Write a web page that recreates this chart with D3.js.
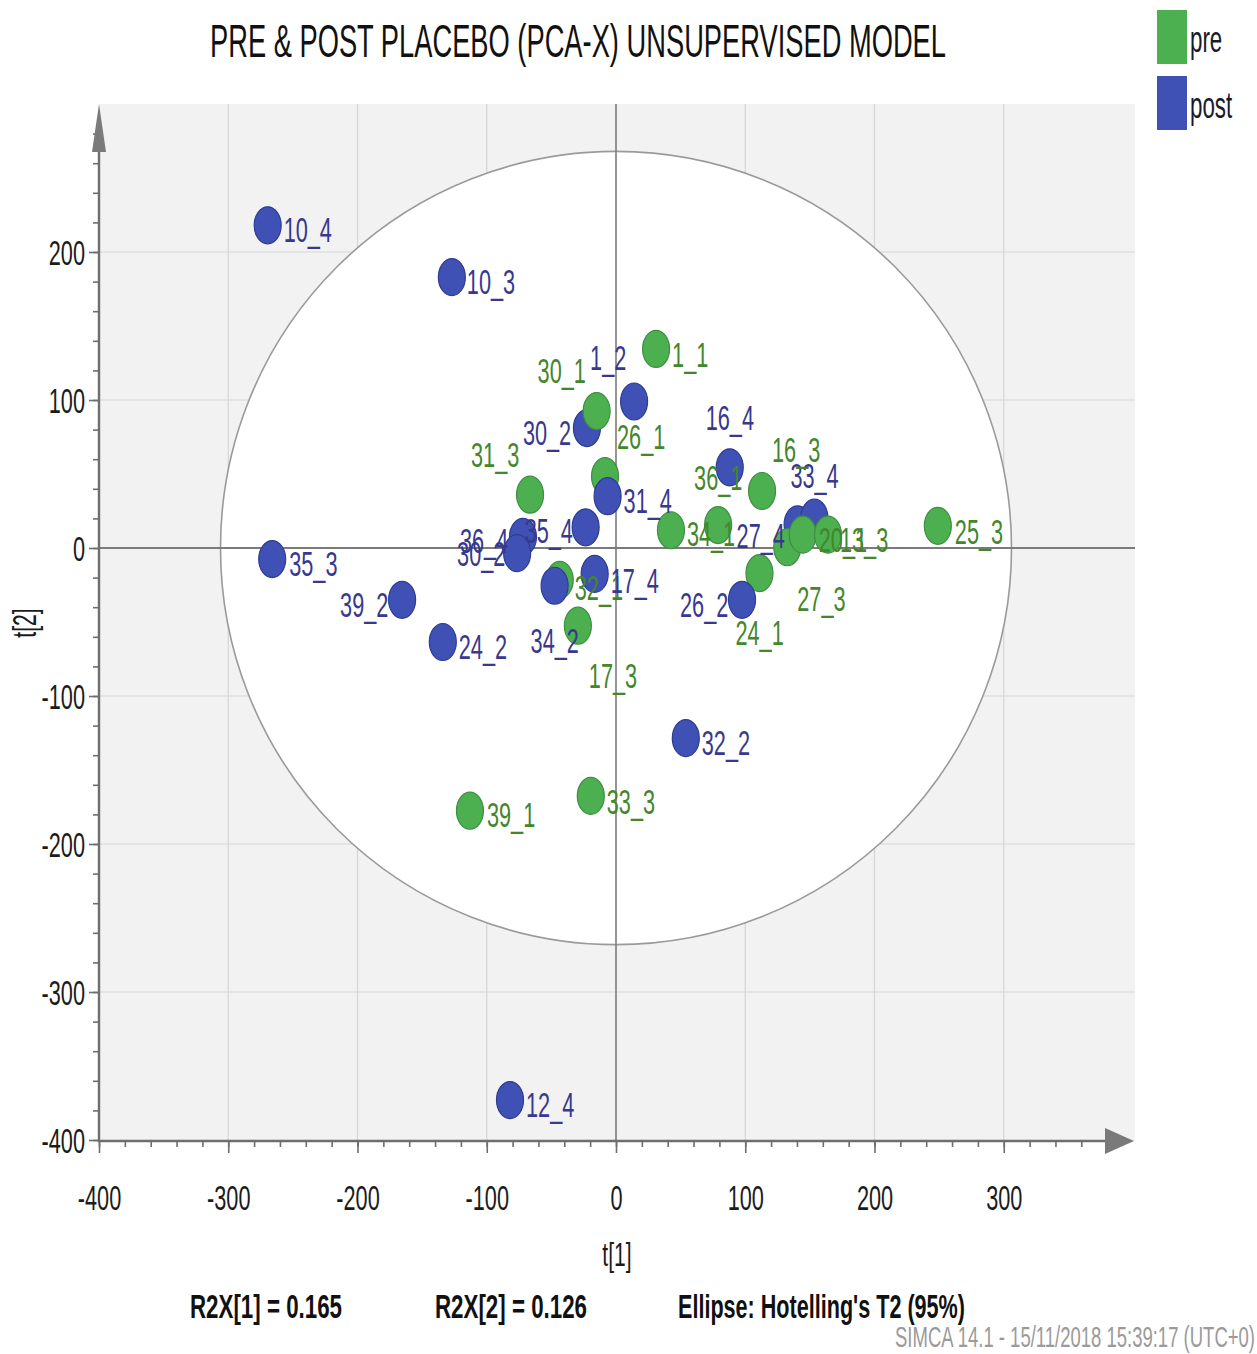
<!DOCTYPE html>
<html>
<head>
<meta charset="utf-8">
<script src="https://cdn.jsdelivr.net/npm/d3@7"></script>
<style>
  html, body { margin: 0; padding: 0; background: #ffffff; }
  svg { display: block; }
  text { font-family: "Liberation Sans", Arial, sans-serif; }
</style>
</head>
<body>
<svg id="chart" width="1257" height="1354"></svg>
<script>
// ---- PCA scores (t[1], t[2]) ----
const preNames = ["1_1", "30_1", "26_1", "31_3", "16_3", "34_1", "36_1", "27_3", "20_1", "13_3", "25_3", "24_1", "32_1", "17_3", "33_3", "39_1"];
const preT1 = [31, -15, -8.5, -66.5, 113, 42.5, 79, 132.5, 144.5, 164, 249, 111, -43.5, -29.5, -19.5, -113];
const preT2 = [134.5, 92.5, 48.5, 36, 38.5, 12, 15.5, 0.5, 9, 9, 15, -17, -21.5, -52.5, -167.5, -177.5];

// the first three "post" observations sit beneath the "pre" markers
const postNames = ["30_2", "27_4", "33_4", "10_4", "10_3", "1_2", "16_4", "31_4", "35_4", "36_4", "30_2", "35_3", "39_2", "24_2", "34_2", "17_4", "26_2", "32_2", "12_4"];
const postT1 = [-22.5, 140.5, 153.5, -269.5, -127, 14, 88, -6.5, -23.5, -72, -76.5, -266, -165.5, -134, -47.5, -16.5, 97.5, 54, -82];
const postT2 = [81, 16, 20.5, 218, 183, 99, 54.5, 35, 14, 7.5, -3.5, -7.5, -35, -63.5, -25.5, -17.5, -35, -128.5, -373];
const postBeneath = 3;

// Hotelling's T2 (95%) ellipse semi-axes in score units
const ellipseAxes = [306, 268];

const xTickValues = [-400, -300, -200, -100, 0, 100, 200, 300];
const yTickValues = [-400, -300, -200, -100, 0, 100, 200];
const titleText = "PRE & POST PLACEBO (PCA-X) UNSUPERVISED MODEL";
const groupNames = ["pre", "post"];
const footerStats = ["R2X[1] = 0.165", "R2X[2] = 0.126", "Ellipse: Hotelling's T2 (95%)"];
const stampText = "SIMCA 14.1 - 15/11/2018 15:39:17 (UTC+0)";

// label placement (pixel nudges from each marker, collision avoidance done by hand)
const preLabelShift = [[16,5],[-59,-41],[12,-40],[-59,-40],[10,-42],[16,3],[-24,-48],[10,51],[16,5],[12,5],[17,6],[-24,59],[15,8],[11,50],[16,5],[17,4]];
const postLabelShift = [[-64,4],[-61,11],[-24,-42],[16,4],[15,4],[-44,-44],[-24,-50],[16,4],[-61,3],[-63,3],[-60,0],[17,4],[-62,5],[16,4],[-24,55],[16,6],[-62,5],[16,4],[16,4]];

// ---- layout ----
const svg = d3.select("#chart");
const panel = { left: 99, right: 1135, top: 104, bottom: 1141 };
const x = d3.scaleLinear().domain([-400, 400]).range([99, 1133]);
const y = d3.scaleLinear().domain([-400, 300]).range([1140, 104]);
const colors = { pre: "#4caf50", post: "#3f51b5" };
const strokes = { pre: "#3d8f41", post: "#2f3c92" };
const labelColors = { pre: "#43862c", post: "#37388e" };
const squeeze = 0.62;

// title
svg.append("text")
  .attr("x", 210).attr("y", 57)
  .attr("textLength", 736).attr("lengthAdjust", "spacingAndGlyphs")
  .attr("font-size", 46).attr("fill", "#111")
  .text(titleText);

// legend
const legend = svg.append("g");
groupNames.forEach((g, i) => {
  legend.append("rect")
    .attr("x", 1157).attr("y", 10 + i * 66).attr("width", 30).attr("height", 54)
    .attr("fill", colors[g]);
  legend.append("text")
    .attr("transform", `translate(1190, ${52 + i * 66}) scale(${squeeze},1)`)
    .attr("font-size", 36).attr("fill", "#1a1a2a")
    .text(g);
});

// plot panel
svg.append("rect")
  .attr("x", panel.left).attr("y", panel.top)
  .attr("width", panel.right - panel.left).attr("height", panel.bottom - panel.top)
  .attr("fill", "#f2f2f2");

// grid lines
const grid = svg.append("g").attr("stroke", "#d6d6d6").attr("stroke-width", 1.2);
xTickValues.filter(v => v !== 0 && v !== -400).forEach(v => {
  grid.append("line").attr("x1", x(v)).attr("x2", x(v)).attr("y1", panel.top).attr("y2", panel.bottom);
});
yTickValues.filter(v => v !== 0 && v !== -400).forEach(v => {
  grid.append("line").attr("x1", panel.left).attr("x2", panel.right).attr("y1", y(v)).attr("y2", y(v));
});

// confidence ellipse
svg.append("ellipse")
  .attr("cx", x(0)).attr("cy", y(0))
  .attr("rx", x(ellipseAxes[0]) - x(0)).attr("ry", y(0) - y(ellipseAxes[1]))
  .attr("fill", "#ffffff").attr("stroke", "#9a9a9a").attr("stroke-width", 1.6);

// zero lines
svg.append("line").attr("x1", panel.left).attr("x2", panel.right).attr("y1", y(0)).attr("y2", y(0))
  .attr("stroke", "#7b7b7b").attr("stroke-width", 2.2);
svg.append("line").attr("x1", x(0)).attr("x2", x(0)).attr("y1", panel.top).attr("y2", panel.bottom)
  .attr("stroke", "#7b7b7b").attr("stroke-width", 1.6);

// axes
const axisColor = "#6e6e6e";
const xMinor = d3.range(-400, 400, 20);
const yMinor = d3.range(-400, 300, 20);

const xAxisMinor = svg.append("g").attr("transform", `translate(0,${panel.bottom})`)
  .call(d3.axisBottom(x).tickValues(xMinor).tickSize(6).tickFormat("").tickSizeOuter(0));
const xAxis = svg.append("g").attr("transform", `translate(0,${panel.bottom})`)
  .call(d3.axisBottom(x).tickValues(xTickValues).tickSize(12).tickPadding(40).tickSizeOuter(0)
    .tickFormat(d => String(d)));
const yAxisMinor = svg.append("g").attr("transform", `translate(${panel.left},0)`)
  .call(d3.axisLeft(y).tickValues(yMinor).tickSize(6).tickFormat("").tickSizeOuter(0));
const yAxis = svg.append("g").attr("transform", `translate(${panel.left},0)`)
  .call(d3.axisLeft(y).tickValues(yTickValues).tickSize(10).tickFormat(d => String(d)).tickSizeOuter(0));

[xAxisMinor, xAxis, yAxisMinor, yAxis].forEach(a => {
  a.selectAll(".domain").remove();
  a.selectAll(".tick line").attr("stroke", axisColor).attr("stroke-width", 1.6);
});
xAxis.selectAll(".tick text")
  .attr("font-size", 35).attr("fill", "#1b1b1b")
  .attr("font-family", "Liberation Sans, Arial, sans-serif")
  .attr("transform", `scale(${squeeze},1)`)
  .attr("dy", 0).attr("y", 69);
yAxis.selectAll(".tick text")
  .attr("font-size", 35).attr("fill", "#1b1b1b")
  .attr("font-family", "Liberation Sans, Arial, sans-serif")
  .attr("x", -14 / squeeze).attr("dy", "0.35em")
  .attr("transform", `scale(${squeeze},1)`);

// axis lines with arrow heads
svg.append("line").attr("x1", panel.left).attr("x2", panel.left).attr("y1", 140).attr("y2", panel.bottom + 1)
  .attr("stroke", axisColor).attr("stroke-width", 2.4);
svg.append("line").attr("x1", panel.left - 1).attr("x2", 1110).attr("y1", panel.bottom).attr("y2", panel.bottom)
  .attr("stroke", axisColor).attr("stroke-width", 2.4);
svg.append("path").attr("d", `M${panel.left},104 L${panel.left - 7},152 L${panel.left + 7},152 Z`).attr("fill", "#7a7a7a");
svg.append("path").attr("d", `M1134,${panel.bottom} L1105,${panel.bottom - 13} L1105,${panel.bottom + 13} Z`).attr("fill", "#7a7a7a");

// axis titles
svg.append("text")
  .attr("transform", `translate(617,1266) scale(${squeeze},1)`)
  .attr("text-anchor", "middle").attr("font-size", 34).attr("fill", "#1b1b1b")
  .text("t[1]");
svg.append("text")
  .attr("transform", `translate(36,623) rotate(-90) scale(${squeeze},1)`)
  .attr("text-anchor", "middle").attr("font-size", 34).attr("fill", "#1b1b1b")
  .text("t[2]");

// observations
const pre = preNames.map((n, i) => ({ name: n, t1: preT1[i], t2: preT2[i], group: "pre", shift: preLabelShift[i] }));
const post = postNames.map((n, i) => ({ name: n, t1: postT1[i], t2: postT2[i], group: "post", shift: postLabelShift[i] }));
const drawn = [...post.slice(0, postBeneath), ...pre, ...post.slice(postBeneath)];

svg.append("g").selectAll("ellipse").data(drawn).join("ellipse")
  .attr("cx", d => x(d.t1)).attr("cy", d => y(d.t2))
  .attr("rx", 13.5).attr("ry", 18.5)
  .attr("fill", d => colors[d.group])
  .attr("stroke", d => strokes[d.group]).attr("stroke-width", 1.2);

svg.append("g").selectAll("text").data(drawn).join("text")
  .attr("transform", d => `translate(${x(d.t1) + d.shift[0]},${y(d.t2) + d.shift[1]}) scale(${squeeze},1)`)
  .attr("dy", "0.36em")
  .attr("font-size", 35)
  .attr("fill", d => labelColors[d.group])
  .text(d => d.name);

// footer statistics
const footerX = [190, 435, 678];
const footerW = [152, 152, 287];
footerStats.forEach((s, i) => {
  svg.append("text")
    .attr("x", footerX[i]).attr("y", 1318)
    .attr("textLength", footerW[i]).attr("lengthAdjust", "spacingAndGlyphs")
    .attr("font-size", 34).attr("font-weight", "bold").attr("fill", "#111")
    .text(s);
});
svg.append("text")
  .attr("x", 895).attr("y", 1347)
  .attr("textLength", 360).attr("lengthAdjust", "spacingAndGlyphs")
  .attr("font-size", 29).attr("fill", "#9a9a9a")
  .text(stampText);
</script>
</body>
</html>
